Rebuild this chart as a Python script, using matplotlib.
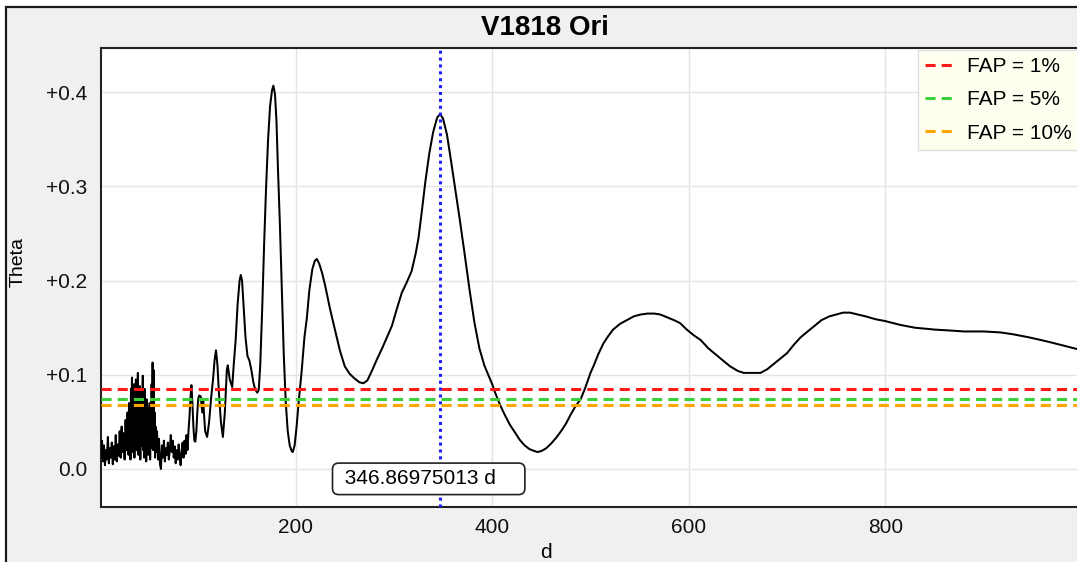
import matplotlib

matplotlib.use("Agg")
import matplotlib.pyplot as plt
from matplotlib.patches import Rectangle
import numpy as np

plt.rcParams["font.family"] = ["Liberation Sans", "DejaVu Sans"]

title = "V1818 Ori"
peak_period = 346.86975013

# short periods: noisy part of the periodogram
period_noise = [
    2, 3, 4, 5, 6, 7, 8, 9, 10, 11, 12, 13, 14, 15, 16, 17, 18, 19, 20,
    21, 22, 23, 24, 25, 26, 27, 28, 29,
    30, 30.5, 31, 31.5, 32, 32.5, 33, 33.5, 34, 34.5, 35, 35.5, 36, 36.5,
    37, 37.5, 38, 38.5, 39, 39.5, 40, 40.5, 41, 41.5, 42, 42.5, 43, 43.5,
    44, 44.5, 45, 45.5, 46, 46.5, 47, 47.5, 48, 48.5, 49, 49.5, 50, 50.5,
    51, 51.5, 52, 52.5, 53, 53.5, 54, 54.5, 55, 55.5, 56, 56.5, 57, 57.5, 58,
    59, 60, 61, 62, 63, 64, 65, 66, 67, 68, 69, 70, 71, 72, 73, 74, 75, 76,
    77, 78, 79, 80, 81, 82, 83, 84, 85, 86, 87, 88, 89, 90, 91, 92, 93,
]
theta_noise = [
    0.012, 0.030, 0.008, 0.025, 0.004, 0.020, 0.010, 0.034, 0.006, 0.022,
    0.012, 0.028, 0.005, 0.024, 0.010, 0.036, 0.008, 0.026, 0.014, 0.040,
    0.012, 0.045, 0.018, 0.038, 0.010, 0.052, 0.020, 0.060,
    0.015, 0.070, 0.022, 0.058, 0.010, 0.085, 0.030, 0.097, 0.018, 0.075,
    0.040, 0.090, 0.012, 0.068, 0.028, 0.095, 0.020, 0.080, 0.035, 0.102,
    0.015, 0.072, 0.030, 0.088, 0.010, 0.066, 0.025, 0.082, 0.040, 0.099,
    0.020, 0.070, 0.012, 0.085, 0.030, 0.060, 0.008, 0.074, 0.025, 0.065,
    0.015, 0.058, 0.030, 0.070, 0.010, 0.062, 0.022, 0.090, 0.035, 0.113,
    0.020, 0.105, 0.030, 0.060, 0.012, 0.045, 0.018,
    0.040, 0.010, 0.032, 0.005, 0.000, 0.025, 0.012, 0.030, 0.008, 0.022,
    0.015, 0.028, 0.010, 0.020, 0.036, 0.018, 0.030, 0.012, 0.024, 0.006,
    0.020, 0.010, 0.026, 0.014, 0.004, 0.018, 0.028, 0.012, 0.030, 0.016,
    0.036, 0.020, 0.040, 0.055, 0.075,
]

# longer periods: smooth part
period_main = [
    94, 95, 96, 97, 98, 99, 100, 101, 102, 103.5, 105, 106, 107, 108, 110,
    112, 114, 116, 117.5, 119, 120.5, 122, 124, 126, 128, 130, 131, 133,
    135.5, 137, 139, 141, 143, 144.2, 145.5, 147, 149, 151, 153, 155, 157,
    159, 161, 162.5, 164, 166, 168, 170, 172, 174, 176, 177.4, 179, 180.5,
    182, 184, 186, 188, 190, 192, 194, 196, 197.1, 199, 201, 203, 206, 209,
    211.4, 214, 217, 219.5, 221.6, 224, 227, 230, 235, 240, 245, 250, 255,
    260, 265, 269, 273, 278, 283, 288, 293, 298, 303, 308, 313, 318, 322,
    325, 328, 332, 336, 340, 344, 347, 350, 354, 358, 362, 367, 372, 377,
    382, 387, 392, 396, 400, 403, 408, 413, 418, 423, 428, 433, 438, 443,
    446, 450, 455, 460, 465, 470, 475, 480, 485, 490, 495, 500, 503, 508,
    513, 518, 523, 530, 537, 544, 551, 558, 565, 571, 578, 585, 591, 598,
    605, 612, 620, 628, 635, 642, 650, 656, 665, 673, 680, 687, 694, 700,
    707, 714, 721, 727, 735, 743, 750, 757, 764, 772, 780, 790, 800, 815,
    830, 850, 866, 880, 900, 917, 930, 945, 958, 970, 985, 1000,
]
theta_main = [
    0.089, 0.070, 0.045, 0.030, 0.029, 0.040, 0.060, 0.075, 0.078, 0.077,
    0.060, 0.072, 0.055, 0.040, 0.034, 0.050, 0.075, 0.095, 0.115, 0.126,
    0.110, 0.080, 0.050, 0.034, 0.060, 0.105, 0.110, 0.095, 0.087, 0.110,
    0.137, 0.175, 0.200, 0.206, 0.200, 0.175, 0.140, 0.120, 0.115, 0.105,
    0.092, 0.084, 0.081, 0.084, 0.110, 0.170, 0.240, 0.300, 0.350, 0.385,
    0.402, 0.407, 0.398, 0.370, 0.320, 0.260, 0.190, 0.120, 0.070, 0.040,
    0.025, 0.019, 0.018, 0.025, 0.045, 0.070, 0.102, 0.140, 0.160, 0.190,
    0.212, 0.221, 0.223, 0.218, 0.208, 0.195, 0.170, 0.148, 0.126, 0.109,
    0.101, 0.096, 0.092, 0.091, 0.094, 0.105, 0.117, 0.128, 0.140, 0.152,
    0.170, 0.187, 0.198, 0.210, 0.228, 0.245, 0.270, 0.305, 0.335, 0.358,
    0.373, 0.377, 0.372, 0.355, 0.328, 0.300, 0.265, 0.228, 0.190, 0.155,
    0.128, 0.110, 0.100, 0.090, 0.081, 0.068, 0.057, 0.047, 0.039, 0.031,
    0.025, 0.021, 0.019, 0.018, 0.019, 0.022, 0.027, 0.033, 0.040, 0.048,
    0.058, 0.067, 0.074, 0.087, 0.102, 0.109, 0.122, 0.133, 0.141, 0.148,
    0.154, 0.158, 0.162, 0.164, 0.165, 0.165, 0.164, 0.161, 0.158, 0.155,
    0.148, 0.142, 0.137, 0.128, 0.121, 0.115, 0.109, 0.104, 0.102, 0.102,
    0.102, 0.106, 0.112, 0.118, 0.123, 0.132, 0.140, 0.146, 0.151, 0.158,
    0.162, 0.164, 0.166, 0.166, 0.164, 0.162, 0.159, 0.157, 0.153, 0.150,
    0.148, 0.147, 0.146, 0.146, 0.145, 0.143, 0.140, 0.137, 0.134, 0.130,
    0.126,
]

fap_labels = ["FAP = 1%", "FAP = 5%", "FAP = 10%"]
fap_levels = [0.085, 0.074, 0.068]
fap_colors = ["#ff1a1a", "#3ccf3c", "#ffa500"]

x_ticks = [200, 400, 600, 800]
y_ticks = [0.0, 0.1, 0.2, 0.3, 0.4]
y_ticklabels = ["0.0", "+0.1", "+0.2", "+0.3", "+0.4"]


def main():
    W, H = 1077, 562
    fig = plt.figure(figsize=(W / 100, H / 100), dpi=100, facecolor="white")

    # window background + frame (only top and left edges are visible)
    fig.add_artist(
        Rectangle(
            (6 / W, -0.1), 1.2, 1.1 - 7 / H,
            transform=fig.transFigure, facecolor="#f0f0f0",
            edgecolor="#1a1a1a", lw=1.6, zorder=-10,
        )
    )

    ax = fig.add_axes([101 / W, 1 - 507 / H, 976 / W, 459 / H])
    ax.set_facecolor("white")

    period = np.array(period_noise + period_main)
    theta = np.array(theta_noise + theta_main)
    ax.plot(period, theta, color="black", lw=1.45, zorder=3)

    for level, color, label in zip(fap_levels, fap_colors, fap_labels):
        ax.axhline(level, color=color, lw=2.2, ls=(0, (3.3, 2)), label=label,
                   zorder=4)

    ax.axvline(peak_period, color="#1f1fff", lw=2.2, ls=(0, (1, 1.25)),
               zorder=5)

    ax.text(335.4, -0.0105, " 346.86975013 d    ", fontsize=15, ha="center",
            va="center", zorder=6,
            bbox=dict(boxstyle="round,pad=0.3", fc="white", ec="#222222",
                      lw=1.2))

    ax.set_xlim(2, 995)
    ax.set_ylim(-0.0404, 0.447)
    ax.set_xticks(x_ticks)
    ax.set_yticks(y_ticks)
    ax.set_yticklabels(y_ticklabels)
    ax.tick_params(length=0, labelsize=15, colors="#111111")
    ax.tick_params(axis="y", pad=10)
    ax.tick_params(axis="x", pad=8)
    ax.grid(True, color="#e4e4e4", lw=1)
    ax.set_axisbelow(True)

    for side in ("left", "top", "bottom"):
        ax.spines[side].set_color("#222222")
        ax.spines[side].set_linewidth(1.5)
    ax.spines["right"].set_visible(False)

    leg = ax.legend(
        loc="upper left", bbox_to_anchor=(0.837, 0.9956), borderaxespad=0,
        fontsize=15, frameon=True, fancybox=False, framealpha=1,
        facecolor="#fffff0", edgecolor="#dedede", handlelength=1.35,
        handletextpad=0.67, labelspacing=0.68, borderpad=0.35,
    )
    leg.get_frame().set_linewidth(1)
    leg.set_zorder(10)

    fig.text(545 / W, 1 - 28 / H, title, fontsize=20, fontweight="bold",
             ha="center", va="center")
    fig.text(18 / W, 1 - 262 / H, "Theta", fontsize=14, rotation=90,
             ha="center", va="center")
    fig.text(546 / W, 1 - 543 / H, "d", fontsize=15, ha="center", va="top")

    fig.savefig("out.png", dpi=100, facecolor=fig.get_facecolor())


if __name__ == "__main__":
    main()
